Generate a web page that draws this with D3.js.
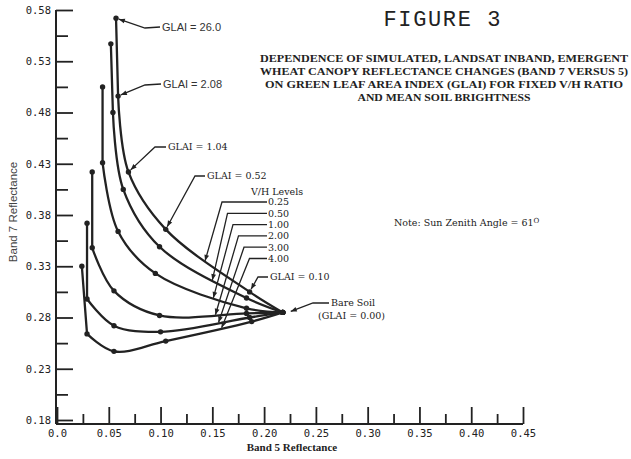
<!DOCTYPE html>
<html>
<head>
<meta charset="utf-8">
<script src="https://cdn.jsdelivr.net/npm/d3@7"></script>
<style>
  body { margin: 0; background: #fff; }
  svg { display: block; }
  .tick line { stroke: #222; stroke-width: 1.8; }
  .tick text { font-family: "DejaVu Sans Mono", monospace; font-size: 10.5px; fill: #222; }
</style>
</head>
<body>
<svg id="canvas" width="631" height="459"></svg>
<script>
// band 5 / band 7 reflectance, one pair of arrays per V/H level
// points run from GLAI = 26.0 down to bare soil
const glaiLevels = ["26.0", "2.08", "1.04", "0.52", "0.10", "0.00"];
const vhLevels = ["0.25", "0.50", "1.00", "2.00", "3.00", "4.00"];

const band5_vh025 = [0.057, 0.059, 0.069, 0.105, 0.186, 0.218];
const band7_vh025 = [0.572, 0.496, 0.422, 0.366, 0.305, 0.285];
const band5_vh050 = [0.052, 0.054, 0.064, 0.099, 0.183, 0.218];
const band7_vh050 = [0.547, 0.480, 0.405, 0.349, 0.299, 0.285];
const band5_vh100 = [0.044, 0.044, 0.059, 0.095, 0.183, 0.218];
const band7_vh100 = [0.505, 0.431, 0.364, 0.323, 0.289, 0.285];
const band5_vh200 = [0.034, 0.034, 0.055, 0.099, 0.183, 0.218];
const band7_vh200 = [0.422, 0.348, 0.306, 0.282, 0.284, 0.285];
const band5_vh300 = [0.029, 0.029, 0.055, 0.100, 0.186, 0.218];
const band7_vh300 = [0.372, 0.298, 0.272, 0.266, 0.280, 0.285];
const band5_vh400 = [0.024, 0.029, 0.055, 0.105, 0.188, 0.218];
const band7_vh400 = [0.330, 0.264, 0.247, 0.257, 0.276, 0.285];

// where each V/H leader lands on its curve (band 5 value)
const vhArrowBand5 = [0.143, 0.150, 0.151, 0.153, 0.156, 0.159];

const xMajor = [0, 0.05, 0.1, 0.15, 0.2, 0.25, 0.3, 0.35, 0.4, 0.45];
const xMinor = [0.025, 0.075, 0.125, 0.175, 0.225, 0.275, 0.325, 0.375, 0.425];
const yMajor = [0.18, 0.23, 0.28, 0.33, 0.38, 0.43, 0.48, 0.53, 0.58];
const yMinor = [0.205, 0.255, 0.305, 0.355, 0.405, 0.455, 0.505, 0.555];

const titleLines = [
  "DEPENDENCE OF SIMULATED, LANDSAT INBAND, EMERGENT",
  "WHEAT CANOPY REFLECTANCE CHANGES (BAND 7 VERSUS 5)",
  "ON GREEN LEAF AREA INDEX (GLAI) FOR FIXED V/H RATIO",
  "AND MEAN SOIL BRIGHTNESS",
];

const curves = [
  [band5_vh025, band7_vh025],
  [band5_vh050, band7_vh050],
  [band5_vh100, band7_vh100],
  [band5_vh200, band7_vh200],
  [band5_vh300, band7_vh300],
  [band5_vh400, band7_vh400],
].map(([b5, b7], i) => ({
  vh: vhLevels[i],
  points: b5.map((v, j) => ({ b5: v, b7: b7[j], glai: glaiLevels[j] })),
}));

const ink = "#222";
const svg = d3.select("#canvas");

const x = d3.scaleLinear().domain([0, 0.45]).range([57, 523]);
const y = d3.scaleLinear().domain([0.18, 0.58]).range([420, 10]);
const axisY = 424;
const axisX = 56;

svg.append("defs").append("marker")
  .attr("id", "arrow")
  .attr("viewBox", "0 0 10 10")
  .attr("refX", 10)
  .attr("refY", 5)
  .attr("markerWidth", 7)
  .attr("markerHeight", 6)
  .attr("markerUnits", "userSpaceOnUse")
  .attr("orient", "auto")
  .append("path")
  .attr("d", "M0,1 L10,5 L0,9 z")
  .attr("fill", ink);

// axes
const gx = svg.append("g").attr("transform", `translate(0,${axisY})`);
gx.append("g").call(d3.axisTop(x).tickValues(xMajor).tickSize(17).tickFormat(""));
gx.append("g").call(d3.axisTop(x).tickValues(xMinor).tickSize(10).tickFormat(""));
gx.append("g").call(
  d3.axisBottom(x).tickValues(xMajor).tickSize(0).tickPadding(6)
    .tickFormat((d) => (d === 0 ? "0.0" : d3.format(".2f")(d)))
);
const gy = svg.append("g").attr("transform", `translate(${axisX},0)`);
gy.append("g").call(d3.axisRight(y).tickValues(yMajor).tickSize(17).tickFormat(""));
gy.append("g").call(d3.axisRight(y).tickValues(yMinor).tickSize(12).tickFormat(""));
gy.append("g").call(
  d3.axisLeft(y).tickValues(yMajor).tickSize(0).tickPadding(5).tickFormat(d3.format(".2f"))
);
svg.selectAll(".domain").remove();

svg.append("line")
  .attr("x1", axisX).attr("x2", x(0.45))
  .attr("y1", axisY).attr("y2", axisY)
  .attr("stroke", ink).attr("stroke-width", 2);
svg.append("line")
  .attr("x1", axisX).attr("x2", axisX)
  .attr("y1", y(0.58)).attr("y2", axisY)
  .attr("stroke", ink).attr("stroke-width", 2);

svg.append("text")
  .attr("x", 292).attr("y", 451)
  .attr("text-anchor", "middle")
  .attr("font-family", "Liberation Serif, serif")
  .attr("font-weight", "bold")
  .attr("font-size", 11)
  .attr("fill", ink)
  .text("Band 5 Reflectance");
svg.append("text")
  .attr("transform", "translate(17,212) rotate(-90)")
  .attr("text-anchor", "middle")
  .attr("font-family", "Liberation Sans, sans-serif")
  .attr("font-size", 11.5)
  .attr("fill", "#444")
  .text("Band 7 Reflectance");

// curves: straight drop from GLAI 26.0 to 2.08, smooth after that
const line = d3.line()
  .x((d) => x(d.b5))
  .y((d) => y(d.b7))
  .curve(d3.curveCatmullRom.alpha(0.5));
const curvePath = (pts) =>
  `M${x(pts[0].b5)},${y(pts[0].b7)}L` + line(pts.slice(1)).slice(1);

const curvePaths = svg.append("g")
  .selectAll("path")
  .data(curves)
  .join("path")
  .attr("d", (d) => curvePath(d.points))
  .attr("fill", "none")
  .attr("stroke", ink)
  .attr("stroke-width", 2.3)
  .attr("stroke-linejoin", "round");

svg.append("g")
  .selectAll("circle")
  .data(curves.flatMap((c) => c.points))
  .join("circle")
  .attr("cx", (d) => x(d.b5))
  .attr("cy", (d) => y(d.b7))
  .attr("r", 2.7)
  .attr("fill", ink);

// find the point on a rendered curve at a given pixel x
const pointAtX = (node, px) => {
  let lo = 0, hi = node.getTotalLength();
  for (let k = 0; k < 40; k++) {
    const mid = (lo + hi) / 2;
    if (node.getPointAtLength(mid).x < px) lo = mid;
    else hi = mid;
  }
  return node.getPointAtLength(lo);
};

const labelFont = (sel) =>
  sel.attr("font-family", "DejaVu Serif, serif")
    .attr("font-size", 9.5)
    .attr("fill", ink);

const leader = (pts) =>
  svg.append("polyline")
    .attr("points", pts.map((p) => p.join(",")).join(" "))
    .attr("fill", "none")
    .attr("stroke", ink)
    .attr("stroke-width", 1.3)
    .attr("marker-end", "url(#arrow)");

// GLAI labels point at the V/H = 0.25 curve
const glaiLabels = [
  { i: 0, tx: 162, ty: 27, bend: [145, 28], sans: true },
  { i: 1, tx: 163, ty: 84, bend: [145, 85], sans: true },
  { i: 2, tx: 168, ty: 147, bend: [155, 147] },
  { i: 3, tx: 207, ty: 176, bend: [195, 176] },
  { i: 4, tx: 270, ty: 277, bend: [258, 277] },
];
glaiLabels.forEach((g) => {
  const p = curves[0].points[g.i];
  const px = x(p.b5), py = y(p.b7);
  const [bx, by] = g.bend;
  const len = Math.hypot(px - bx, py - by);
  const tip = [px + ((bx - px) / len) * 3, py + ((by - py) / len) * 3];
  leader([[g.tx - 2, g.ty], [bx, by], tip]);
  const t = svg.append("text")
    .attr("x", g.tx).attr("y", g.ty)
    .attr("dy", "0.35em")
    .call(labelFont)
    .text(`GLAI = ${p.glai}`);
  if (g.sans) t.attr("font-family", "Liberation Sans, sans-serif").attr("font-size", 11).attr("fill", "#333");
});

// V/H level labels
svg.append("text")
  .attr("x", 277).attr("y", 192)
  .attr("dy", "0.35em")
  .attr("text-anchor", "middle")
  .call(labelFont)
  .text("V/H Levels");

curvePaths.each(function (c, i) {
  const ty = 202 + i * 11.3;
  const bx = 222 + i * 5.5;
  const tip = pointAtX(this, x(vhArrowBand5[i]));
  leader([[267, ty], [bx, ty], [tip.x, tip.y - 1]]);
  svg.append("text")
    .attr("x", 268).attr("y", ty)
    .attr("dy", "0.35em")
    .call(labelFont)
    .text(c.vh);
});

// bare soil
const soil = curves[0].points[5];
leader([[329, 303], [313, 303], [x(soil.b5) + 8, y(soil.b7) - 1]]);
svg.append("text").attr("x", 331).attr("y", 303).attr("dy", "0.35em")
  .call(labelFont).text("Bare Soil");
svg.append("text").attr("x", 318).attr("y", 316).attr("dy", "0.35em")
  .call(labelFont).text(`(GLAI = ${soil.glai})`);

// note
const note = svg.append("text").attr("x", 394).attr("y", 223).attr("dy", "0.35em")
  .call(labelFont);
note.append("tspan").text("Note: Sun Zenith Angle = 61");
note.append("tspan").attr("dy", "-0.5em").attr("font-size", 7).text("O");

// title block
svg.append("text")
  .attr("x", 442).attr("y", 26)
  .attr("text-anchor", "middle")
  .attr("font-family", "Liberation Mono, monospace")
  .attr("font-size", 22)
  .attr("textLength", 117)
  .attr("fill", ink)
  .text("FIGURE 3");

const titleWidths = [368, 368, 358, 173];
svg.append("g")
  .selectAll("text")
  .data(titleLines)
  .join("text")
  .attr("x", 444)
  .attr("y", (d, i) => 62 + i * 13)
  .attr("text-anchor", "middle")
  .attr("font-family", "Liberation Serif, serif")
  .attr("font-weight", "bold")
  .attr("font-size", 10)
  .attr("textLength", (d, i) => titleWidths[i])
  .attr("lengthAdjust", "spacingAndGlyphs")
  .attr("fill", ink)
  .text((d) => d);
</script>
</body>
</html>
